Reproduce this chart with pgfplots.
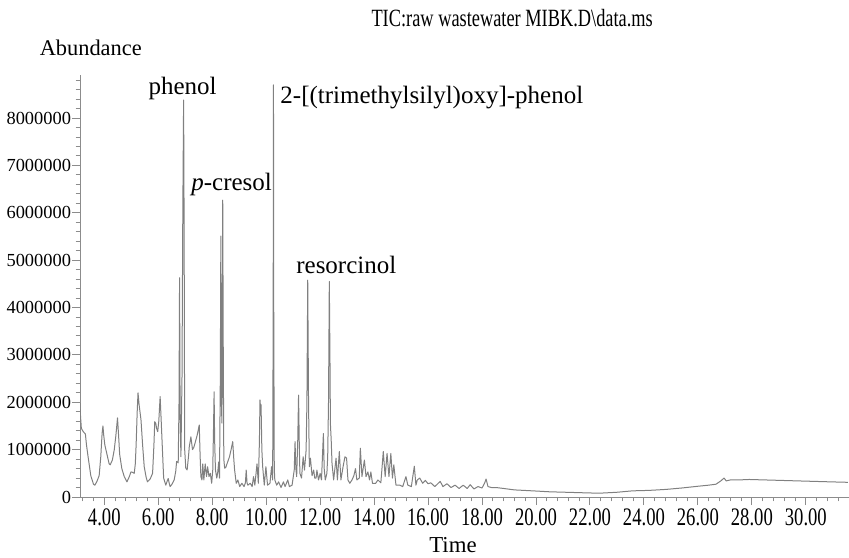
\documentclass[border=0pt]{standalone}
\usepackage{fontspec}
\setmainfont{Liberation Serif}
\newfontfamily\condfont[FakeStretch=0.74]{Liberation Serif}
\usepackage{pgfplots}
\pgfplotsset{compat=1.18}
\begin{document}
\begin{tikzpicture}
\definecolor{trace}{HTML}{808080}
\definecolor{axisgrey}{HTML}{8C8C8C}
\begin{axis}[
  name=ax,
  scale only axis,
  width=384.5bp, height=211bp,
  xmin=3.1, xmax=31.6, ymin=0, ymax=8.91,
  axis x line*=bottom, axis y line*=left,
  axis line style={axisgrey, line width=0.5bp},
  tick align=outside,
  tick style={axisgrey, line width=0.5bp},
  major tick length=4bp, minor tick length=2.2bp,
  xtick={4,6,...,30},
  xticklabels={4.00,6.00,8.00,10.00,12.00,14.00,16.00,18.00,20.00,22.00,24.00,26.00,28.00,30.00},
  minor xtick={3.2,3.6,...,31.6},
  ytick={0,1,...,8},
  yticklabels={\textrm{0},\textrm{1000000},\textrm{2000000},\textrm{3000000},\textrm{4000000},\textrm{5000000},\textrm{6000000},\textrm{7000000},\textrm{8000000}},
  minor ytick={0,0.2,...,8.8},
  x tick label style={font=\condfont\fontsize{12.6bp}{13bp}\selectfont, yshift=1.5bp},
  y tick label style={font=\rmfamily\fontsize{9.2bp}{10bp}\selectfont, xshift=3bp},
  clip mode=individual,
]
\addplot[trace, line width=0.5bp, line join=round] coordinates {
(3.10,1.98) (3.12,1.70) (3.15,1.45) (3.22,1.38) (3.30,1.33) (3.34,1.10) (3.40,0.85)
(3.50,0.45) (3.60,0.27) (3.65,0.25) (3.72,0.32) (3.81,0.45) (3.87,0.85) (3.92,1.35)
(3.95,1.50) (3.98,1.30) (4.02,1.10) (4.08,0.95) (4.18,0.70) (4.22,0.68) (4.30,0.78)
(4.37,1.00) (4.43,1.30) (4.49,1.67) (4.53,1.30) (4.57,0.90) (4.65,0.60) (4.74,0.43)
(4.84,0.32) (4.92,0.42) (4.99,0.53) (5.05,0.52) (5.11,0.50) (5.15,0.70) (5.18,1.10)
(5.22,1.80) (5.25,2.20) (5.29,1.95) (5.36,1.63) (5.42,1.10) (5.48,0.64) (5.55,0.42)
(5.60,0.32) (5.70,0.38) (5.79,0.50) (5.84,1.10) (5.87,1.59) (5.91,1.55) (5.94,1.45)
(5.98,1.38) (6.02,1.60) (6.07,2.12) (6.11,1.60) (6.16,0.93) (6.20,0.40) (6.28,0.25)
(6.34,0.35) (6.37,0.39) (6.41,0.28) (6.44,0.22) (6.52,0.28) (6.59,0.36) (6.65,0.55)
(6.68,0.75) (6.74,0.72) (6.77,2.00) (6.79,4.63) (6.81,1.80) (6.84,0.85) (6.88,2.50)
(6.91,6.00) (6.94,8.38) (6.96,5.50) (6.98,1.00) (7.02,0.61) (7.07,0.57) (7.12,0.85)
(7.15,1.06) (7.21,1.27) (7.27,1.00) (7.32,1.05) (7.36,1.13) (7.44,1.30) (7.52,1.52)
(7.55,0.90) (7.58,0.43) (7.62,0.36) (7.65,0.70) (7.69,0.36) (7.74,0.70) (7.79,0.43)
(7.83,0.64) (7.88,0.43) (7.93,0.50) (7.98,0.29) (8.02,0.57) (8.05,1.50) (8.07,2.22)
(8.09,1.20) (8.12,0.57) (8.17,0.40) (8.20,0.50) (8.24,0.74) (8.27,0.40) (8.30,2.50)
(8.32,5.51) (8.34,2.00) (8.36,1.56) (8.38,4.50) (8.39,6.27) (8.41,3.00) (8.43,0.80)
(8.46,0.61) (8.50,0.62) (8.56,0.72) (8.64,0.85) (8.70,1.00) (8.76,1.17) (8.80,0.80)
(8.83,0.57) (8.89,0.29) (8.95,0.36) (9.02,0.22) (9.10,0.29) (9.18,0.22) (9.23,0.30)
(9.26,0.57) (9.29,0.30) (9.32,0.25) (9.41,0.29) (9.48,0.22) (9.53,0.43) (9.58,0.25)
(9.66,0.70) (9.71,0.29) (9.75,1.20) (9.77,2.05) (9.79,1.90) (9.81,1.95) (9.84,1.00)
(9.87,0.64) (9.93,0.25) (9.99,0.64) (10.05,0.25) (10.14,0.29) (10.20,0.64) (10.24,0.36)
(10.26,4.00) (10.27,8.70) (10.28,4.00) (10.30,0.60) (10.32,0.36) (10.39,0.25) (10.46,0.32)
(10.55,0.20) (10.64,0.32) (10.70,0.22) (10.80,0.36) (10.86,0.22) (10.96,0.25) (11.04,0.57)
(11.07,1.17) (11.10,0.60) (11.13,0.43) (11.17,1.20) (11.20,2.15) (11.23,1.00) (11.25,0.50)
(11.31,0.40) (11.37,0.85) (11.42,0.57) (11.48,0.99) (11.51,2.00) (11.54,4.58) (11.57,2.00)
(11.60,0.64) (11.64,0.82) (11.70,0.45) (11.76,0.57) (11.80,0.40) (11.85,0.40) (11.88,0.57)
(11.94,0.36) (12.00,0.50) (12.05,0.36) (12.12,1.34) (12.15,0.60) (12.19,0.36) (12.25,0.50)
(12.28,0.85) (12.31,2.00) (12.34,4.55) (12.37,2.50) (12.38,1.55) (12.41,1.20) (12.44,0.71)
(12.50,0.36) (12.59,0.82) (12.64,0.36) (12.71,0.96) (12.77,0.36) (12.85,0.64) (12.92,0.85)
(12.98,0.82) (13.03,0.36) (13.10,0.29) (13.18,0.36) (13.25,0.45) (13.31,0.60) (13.36,0.36)
(13.45,0.40) (13.49,1.03) (13.55,0.43) (13.64,0.78) (13.70,0.43) (13.77,0.53) (13.83,0.36)
(13.88,0.53) (13.94,0.29) (14.06,0.29) (14.14,0.36) (14.25,0.30) (14.34,0.96) (14.41,0.43)
(14.48,0.92) (14.55,0.43) (14.62,0.92) (14.68,0.40) (14.73,0.68) (14.81,0.25) (14.95,0.25)
(15.06,0.22) (15.18,0.43) (15.25,0.25) (15.38,0.22) (15.49,0.65) (15.55,0.25) (15.60,0.36)
(15.69,0.40) (15.80,0.29) (15.90,0.35) (16.00,0.28) (16.10,0.30) (16.25,0.22) (16.45,0.33)
(16.55,0.22) (16.70,0.28) (16.85,0.20) (17.00,0.25) (17.15,0.18) (17.30,0.25) (17.45,0.18)
(17.56,0.26) (17.70,0.17) (17.85,0.22) (18.00,0.19) (18.10,0.30) (18.15,0.38) (18.22,0.22)
(18.35,0.20) (18.52,0.20) (18.80,0.18) (19.20,0.15) (19.87,0.13) (20.50,0.11) (21.11,0.10)
(21.70,0.09) (22.34,0.08) (23.00,0.10) (23.58,0.13) (24.20,0.14) (24.81,0.16) (25.40,0.19)
(26.05,0.23) (26.40,0.25) (26.67,0.27) (26.85,0.34) (26.97,0.40) (27.05,0.34) (27.20,0.36)
(27.50,0.36) (27.90,0.37) (28.50,0.36) (29.10,0.35) (29.70,0.34) (30.30,0.33) (30.90,0.32)
(31.56,0.31)
};
\node[font=\fontsize{12.5bp}{14bp}\selectfont] at (axis cs:6.90,8.63) {phenol};
\node[font=\fontsize{12.5bp}{14bp}\selectfont] at (axis cs:8.72,6.59) {\textit{p}-cresol};
\node[font=\fontsize{12.5bp}{14bp}\selectfont] at (axis cs:16.14,8.44) {2-[(trimethylsilyl)oxy]-phenol};
\node[font=\fontsize{12.5bp}{14bp}\selectfont] at (axis cs:12.97,4.90) {resorcinol};
\node[font=\condfont\fontsize{12.4bp}{14bp}\selectfont] at ([yshift=28.5bp]rel axis cs:0.562,1) {TIC:raw wastewater MIBK.D\textbackslash data.ms};
\node[font=\fontsize{11.2bp}{13bp}\selectfont] at ([yshift=13.5bp]rel axis cs:0.014,1) {Abundance};
\node[font=\fontsize{11.4bp}{13bp}\selectfont] at ([yshift=-24bp]rel axis cs:0.485,0) {Time};
\end{axis}
\pgfresetboundingbox
\path[use as bounding box] ([xshift=-40bp,yshift=-30.5bp]ax.south west) rectangle ([yshift=37.5bp]ax.north east);
\end{tikzpicture}
\end{document}
